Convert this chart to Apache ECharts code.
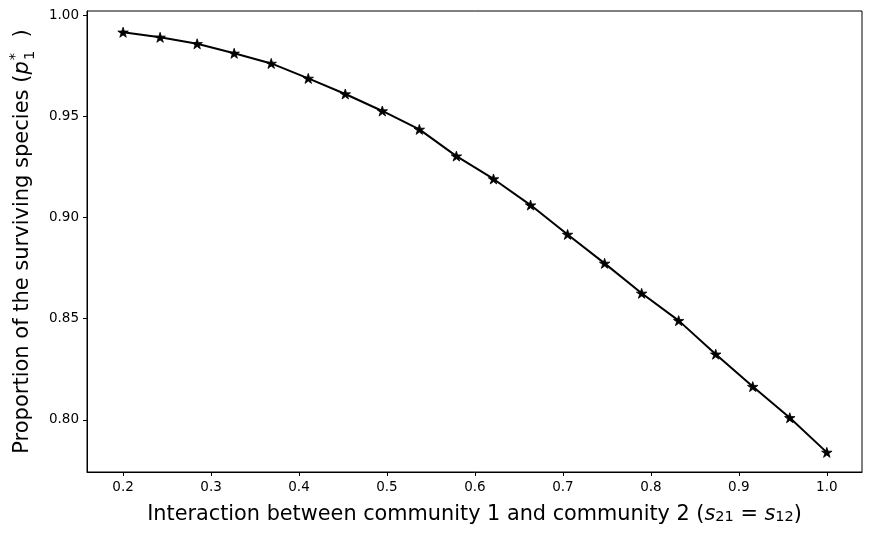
<!DOCTYPE html>
<html lang="en">
<head>
    <meta charset="UTF-8">
    <title>Surviving species</title>
    <script src="https://cdn.jsdelivr.net/npm/echarts@6/dist/echarts.min.js"></script>
    <style>
        html, body { margin: 0; padding: 0; background: #fff; }
        #main { width: 872px; height: 536px; }
    </style>
</head>
<body>
    <div id="main"></div>
    <script>
        var chart = echarts.init(document.getElementById('main'));

        // interaction strength s21 = s12
        var interaction = [0.2, 0.2421, 0.2842, 0.3263, 0.3684, 0.4105, 0.4526, 0.4947, 0.5368, 0.5789,
                           0.6211, 0.6632, 0.7053, 0.7474, 0.7895, 0.8316, 0.8737, 0.9158, 0.9579, 1.0];
        // proportion p1*
        var proportion = [0.9915, 0.9890, 0.9858, 0.9811, 0.9761, 0.9687, 0.9610, 0.9526, 0.9435, 0.9303,
                          0.9190, 0.9061, 0.8916, 0.8773, 0.8625, 0.8490, 0.8324, 0.8164, 0.8010, 0.7839];
        var xTicks = [0.2, 0.3, 0.4, 0.5, 0.6, 0.7, 0.8, 0.9, 1.0];
        var yTicks = [0.80, 0.85, 0.90, 0.95, 1.00];

        var points = interaction.map(function (x, i) { return [x, proportion[i]]; });

        var star = 'path://M0,-100 L22.45,-30.9 L95.1,-30.9 L36.3,11.8 L58.8,80.9 L0,38.2 L-58.8,80.9 L-36.3,11.8 L-95.1,-30.9 L-22.45,-30.9 Z';
        var font = 'DejaVu Sans';
        var tickLabel = { color: '#000', fontFamily: font, fontSize: 13.5 };

        var option = {
            backgroundColor: '#fff',
            animation: false,
            grid: {
                left: 87, right: 10, top: 11, bottom: 64,
                outerBoundsMode: 'none',
                containLabel: false,
                show: true, borderColor: '#000', borderWidth: 1
            },
            xAxis: {
                type: 'value',
                min: 0.159, max: 1.04,
                name: '{t|Interaction between community 1 and community 2 (}{i|s}{sb|21}{t| = }{i|s}{sb|12}{t|)}',
                nameLocation: 'middle',
                nameGap: 27,
                nameTextStyle: {
                    rich: {
                        t: { fontFamily: font, fontSize: 20.8, color: '#000', verticalAlign: 'bottom', lineHeight: 26 },
                        i: { fontFamily: font, fontSize: 20.8, fontStyle: 'italic', color: '#000', verticalAlign: 'bottom', lineHeight: 26 },
                        sb: { fontFamily: font, fontSize: 14.5, color: '#000', verticalAlign: 'bottom', lineHeight: 20 }
                    }
                },
                axisLine: { lineStyle: { color: '#000', width: 1 } },
                axisTick: { customValues: xTicks, length: 4, lineStyle: { color: '#000' } },
                axisLabel: Object.assign({
                    customValues: xTicks, margin: 8,
                    formatter: function (v) { return v.toFixed(1); }
                }, tickLabel),
                splitLine: { show: false }
            },
            yAxis: {
                type: 'value',
                min: 0.7742, max: 1.002,
                name: '{t|Proportion of the surviving species (}{i|p}{ss|*}{sb|1}{t|  )}',
                nameLocation: 'middle',
                nameRotate: 90,
                nameGap: 49,
                nameTextStyle: {
                    rich: {
                        t: { fontFamily: font, fontSize: 21, color: '#000', verticalAlign: 'middle', lineHeight: 30 },
                        i: { fontFamily: font, fontSize: 21, fontStyle: 'italic', color: '#000', verticalAlign: 'middle', lineHeight: 30 },
                        ss: { fontFamily: font, fontSize: 14.5, color: '#000', verticalAlign: 'top', lineHeight: 28, padding: [0, -7, 0, 1] },
                        sb: { fontFamily: font, fontSize: 14.5, color: '#000', verticalAlign: 'bottom', lineHeight: 24 }
                    }
                },
                axisLine: { show: true, lineStyle: { color: '#000', width: 1 } },
                axisTick: { show: true, customValues: yTicks, length: 4, lineStyle: { color: '#000' } },
                axisLabel: Object.assign({
                    customValues: yTicks, margin: 8,
                    formatter: function (v) { return v.toFixed(2); }
                }, tickLabel),
                splitLine: { show: false }
            },
            series: [{
                type: 'line',
                data: points,
                symbol: star,
                symbolSize: [10.5, 10],
                showAllSymbol: true,
                itemStyle: { color: '#000', borderColor: '#000', borderWidth: 0.8 },
                lineStyle: { color: '#000', width: 2 }
            }]
        };
        chart.setOption(option);
    </script>
</body>
</html>
